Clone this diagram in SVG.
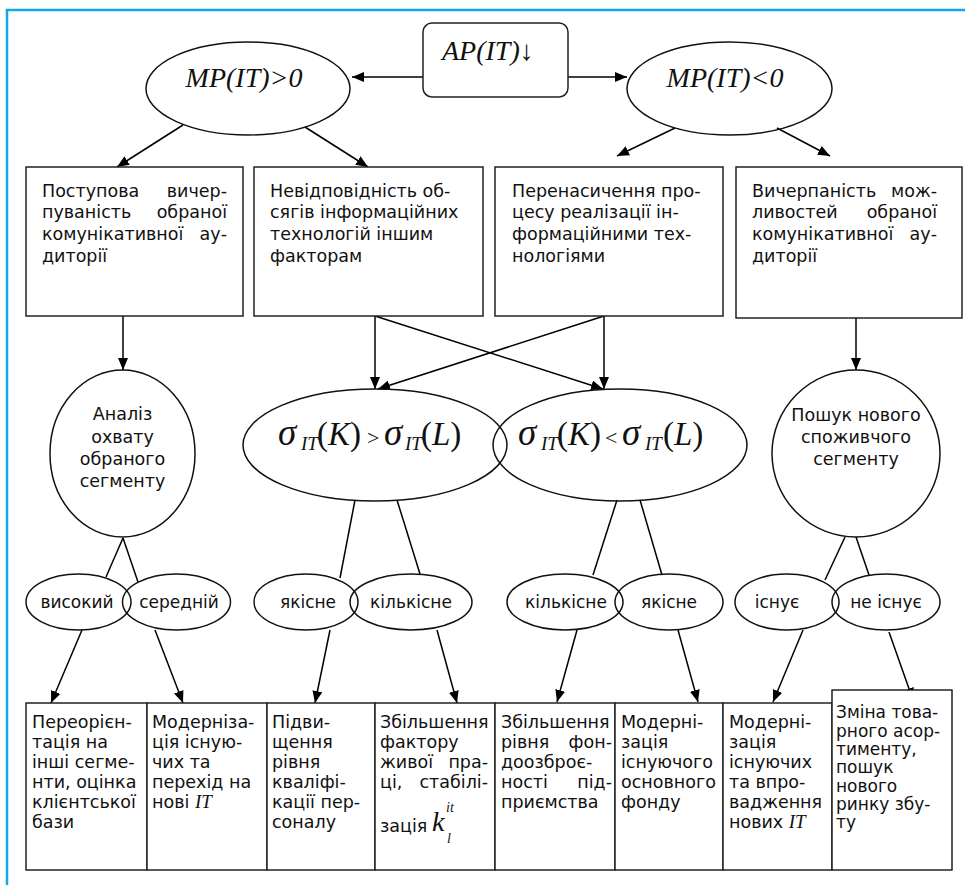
<svg xmlns="http://www.w3.org/2000/svg" width="965" height="885" viewBox="0 0 965 885">
<defs>
<marker id="ah" markerWidth="12" markerHeight="10" refX="12" refY="5" orient="auto" markerUnits="userSpaceOnUse">
<path d="M0,0 L12,5 L0,10 Z" fill="#000"/>
</marker>
<style>
.n{fill:none;stroke:#111;stroke-width:1.5}
.b{fill:#fff;stroke:#222;stroke-width:1.5}
.c line{stroke:#000;stroke-width:1.5}
.a{marker-end:url(#ah)}
.t{font-family:"DejaVu Sans",Verdana,sans-serif;font-size:17.5px;fill:#111}
.s{font-family:"DejaVu Sans",Verdana,sans-serif;font-size:17px;fill:#111}
.m{font-family:"Liberation Serif","Times New Roman",serif;fill:#111}
.g{font-style:italic;font-size:37px}
.sub{font-style:italic;font-size:19px}
.mid{text-anchor:middle}
.e{text-anchor:end}
</style>
</defs>
<rect width="965" height="885" fill="#fff"/>
<path d="M7,885 V10 H965" fill="none" stroke="#14a6e6" stroke-width="2.5"/>

<g class="c">
<line class="a" x1="423" y1="77" x2="352" y2="77"/>
<line class="a" x1="568" y1="77" x2="627" y2="77"/>
<line class="a" x1="183" y1="125" x2="117" y2="167"/>
<line class="a" x1="305" y1="127" x2="368" y2="167"/>
<line class="a" x1="675" y1="128" x2="617" y2="156"/>
<line class="a" x1="777" y1="128" x2="830" y2="156"/>
<line class="a" x1="123" y1="316" x2="123" y2="370"/>
<line class="a" x1="375" y1="316" x2="375" y2="389"/>
<line class="a" x1="375" y1="316" x2="603" y2="389"/>
<line class="a" x1="604" y1="316" x2="604" y2="389"/>
<line class="a" x1="604" y1="316" x2="378" y2="389"/>
<line class="a" x1="856" y1="318" x2="856" y2="370"/>
<line x1="123" y1="538" x2="106" y2="577"/>
<line x1="123" y1="538" x2="138" y2="582"/>
<line x1="355" y1="500" x2="340" y2="578"/>
<line x1="397" y1="500" x2="420" y2="574"/>
<line x1="617" y1="500" x2="593" y2="575"/>
<line x1="640" y1="500" x2="662" y2="575"/>
<line x1="845" y1="537" x2="825" y2="580"/>
<line x1="856" y1="537" x2="869" y2="575"/>
<line class="a" x1="82" y1="630" x2="51" y2="703"/>
<line class="a" x1="155" y1="630" x2="183" y2="703"/>
<line class="a" x1="330" y1="630" x2="315" y2="703"/>
<line class="a" x1="437" y1="630" x2="457" y2="703"/>
<line class="a" x1="577" y1="630" x2="557" y2="702"/>
<line class="a" x1="678" y1="630" x2="698" y2="702"/>
<line class="a" x1="803" y1="630" x2="773" y2="702"/>
<line class="a" x1="889" y1="632" x2="913" y2="700"/>
</g>

<g id="ap">
<rect class="b" x="423" y="23" width="145" height="74" rx="9"/>
<text class="m" x="442" y="60" font-size="28"><tspan font-style="italic">AP(IT)</tspan>↓</text>
</g>
<g id="mp-pos">
<ellipse class="n" cx="248" cy="88.5" rx="102" ry="46.5"/>
<text class="m mid" x="244" y="87" font-size="28" font-style="italic">MP(IT)&gt;0</text>
</g>
<g id="mp-neg">
<ellipse class="n" cx="729.5" cy="88.5" rx="102.5" ry="46.5"/>
<text class="m mid" x="725" y="87" font-size="28" font-style="italic">MP(IT)&lt;0</text>
</g>

<g id="box1">
<rect class="b" x="26" y="167" width="217" height="149"/>
<text class="t" x="42" y="197">Поступова</text><text class="t e" x="227" y="197">вичер-</text>
<text class="t" x="42" y="218">пуваність</text><text class="t e" x="227" y="218">обраної</text>
<text class="t" x="42" y="240">комунікативної</text><text class="t e" x="227" y="240">ау-</text>
<text class="t" x="42" y="262">диторії</text>
</g>
<g id="box2">
<rect class="b" x="254" y="167" width="229" height="149"/>
<text class="t" x="270" y="197">Невідповідність об-</text>
<text class="t" x="270" y="218">сягів інформаційних</text>
<text class="t" x="270" y="240">технологій іншим</text>
<text class="t" x="270" y="262">факторам</text>
</g>
<g id="box3">
<rect class="b" x="495" y="167" width="228" height="149"/>
<text class="t" x="512" y="197">Перенасичення про-</text>
<text class="t" x="512" y="218">цесу реалізації ін-</text>
<text class="t" x="512" y="240">формаційними тех-</text>
<text class="t" x="512" y="262">нологіями</text>
</g>
<g id="box4">
<rect class="b" x="736" y="167" width="226" height="151"/>
<text class="t" x="752" y="197">Вичерпаність</text><text class="t e" x="937" y="197">мож-</text>
<text class="t" x="752" y="218">ливостей</text><text class="t e" x="937" y="218">обраної</text>
<text class="t" x="752" y="240">комунікативної</text><text class="t e" x="937" y="240">ау-</text>
<text class="t" x="752" y="262">диторії</text>
</g>

<g id="analysis">
<ellipse class="n" cx="122.5" cy="453.5" rx="72.5" ry="83.5"/>
<text class="t mid" x="122.5" y="420">Аналіз</text>
<text class="t mid" x="122.5" y="443">охвату</text>
<text class="t mid" x="122.5" y="465">обраного</text>
<text class="t mid" x="122.5" y="487">сегменту</text>
</g>
<g id="sigma-gt">
<ellipse class="n" cx="375" cy="445" rx="132" ry="56"/>
<text class="m" y="445" font-size="33"><tspan class="g" x="278">σ</tspan><tspan class="sub" x="301" y="450">IT</tspan><tspan x="317" y="445">(</tspan><tspan font-style="italic">K</tspan><tspan>)</tspan><tspan x="367" font-size="22">&gt;</tspan><tspan class="g" x="384">σ</tspan><tspan class="sub" x="405" y="450">IT</tspan><tspan x="421" y="445">(</tspan><tspan font-style="italic">L</tspan><tspan>)</tspan></text>
</g>
<g id="sigma-lt">
<ellipse class="n" cx="620" cy="445" rx="127" ry="56"/>
<text class="m" y="445" font-size="33"><tspan class="g" x="518">σ</tspan><tspan class="sub" x="541" y="450">IT</tspan><tspan x="557" y="445">(</tspan><tspan font-style="italic">K</tspan><tspan>)</tspan><tspan x="605" font-size="22">&lt;</tspan><tspan class="g" x="622">σ</tspan><tspan class="sub" x="645" y="450">IT</tspan><tspan x="663" y="445">(</tspan><tspan font-style="italic">L</tspan><tspan>)</tspan></text>
</g>
<g id="search">
<ellipse class="n" cx="856" cy="453.5" rx="84" ry="83.5"/>
<text class="t mid" x="856" y="421">Пошук нового</text>
<text class="t mid" x="856" y="443">споживчого</text>
<text class="t mid" x="856" y="465">сегменту</text>
</g>

<g id="high"><ellipse class="n" cx="78.5" cy="602" rx="52.5" ry="28"/><text class="s mid" x="77" y="608">високий</text></g>
<g id="medium"><ellipse class="n" cx="176.5" cy="602" rx="54" ry="28"/><text class="s mid" x="179" y="608">середній</text></g>
<g id="qual1"><ellipse class="n" cx="306" cy="602" rx="52" ry="28"/><text class="s mid" x="308" y="608">якісне</text></g>
<g id="quant1"><ellipse class="n" cx="411" cy="602" rx="61" ry="28"/><text class="s mid" x="411" y="608">кількісне</text></g>
<g id="quant2"><ellipse class="n" cx="565" cy="602" rx="58" ry="28"/><text class="s mid" x="566" y="608">кількісне</text></g>
<g id="qual2"><ellipse class="n" cx="669" cy="602" rx="54" ry="28"/><text class="s mid" x="669" y="608">якісне</text></g>
<g id="exists"><ellipse class="n" cx="787" cy="602" rx="52" ry="28"/><text class="s mid" x="777" y="608">існує</text></g>
<g id="notexists"><ellipse class="n" cx="886" cy="602" rx="54" ry="28"/><text class="s mid" x="886" y="608">не існує</text></g>

<g id="r1">
<rect class="b" x="26" y="703" width="121" height="167"/>
<text class="t" x="32" y="728">Переорієн-</text>
<text class="t" x="32" y="748">тація на</text>
<text class="t" x="32" y="768">інші сегме-</text>
<text class="t" x="32" y="788">нти, оцінка</text>
<text class="t" x="32" y="808">клієнтської</text>
<text class="t" x="32" y="828">бази</text>
</g>
<g id="r2">
<rect class="b" x="147" y="703" width="120" height="167"/>
<text class="t" x="152" y="728">Модерніза-</text>
<text class="t" x="152" y="748">ція існую-</text>
<text class="t" x="152" y="768">чих та</text>
<text class="t" x="152" y="788">перехід на</text>
<text class="t" x="152" y="808">нові <tspan font-family="Liberation Serif" font-style="italic" font-size="19">IT</tspan></text>
</g>
<g id="r3">
<rect class="b" x="267" y="703" width="108" height="167"/>
<text class="t" x="272" y="728">Підви-</text>
<text class="t" x="272" y="748">щення</text>
<text class="t" x="272" y="768">рівня</text>
<text class="t" x="272" y="788">кваліфі-</text>
<text class="t" x="272" y="808">кації пер-</text>
<text class="t" x="272" y="828">соналу</text>
</g>
<g id="r4">
<rect class="b" x="375" y="703" width="120" height="167"/>
<text class="t" x="380" y="728">Збільшення</text>
<text class="t" x="380" y="748">фактору</text>
<text class="t" x="380" y="768">живої</text><text class="t e" x="488" y="768">пра-</text>
<text class="t" x="380" y="788">ці,</text><text class="t e" x="488" y="788">стабілі-</text>
<text class="t" x="380" y="832">зація</text>
<text class="m" font-style="italic"><tspan x="432" y="831" font-size="28">k</tspan><tspan x="447" y="843" font-size="14">l</tspan><tspan x="446" y="812" font-size="14">it</tspan></text>
</g>
<g id="r5">
<rect class="b" x="495" y="703" width="120" height="167"/>
<text class="t" x="501" y="728">Збільшення</text>
<text class="t" x="501" y="748">рівня</text><text class="t e" x="612" y="748">фон-</text>
<text class="t" x="501" y="768">доозброє-</text>
<text class="t" x="501" y="788">ності</text><text class="t e" x="612" y="788">під-</text>
<text class="t" x="501" y="808">приємства</text>
</g>
<g id="r6">
<rect class="b" x="615" y="703" width="108" height="167"/>
<text class="t" x="621" y="728">Модерні-</text>
<text class="t" x="621" y="748">зація</text>
<text class="t" x="621" y="768">існуючого</text>
<text class="t" x="621" y="788">основного</text>
<text class="t" x="621" y="808">фонду</text>
</g>
<g id="r7">
<rect class="b" x="723" y="703" width="109" height="167"/>
<text class="t" x="729" y="728">Модерні-</text>
<text class="t" x="729" y="748">зація</text>
<text class="t" x="729" y="768">існуючих</text>
<text class="t" x="729" y="788">та впро-</text>
<text class="t" x="729" y="808">вадження</text>
<text class="t" x="729" y="828">нових <tspan font-family="Liberation Serif" font-style="italic" font-size="19">IT</tspan></text>
</g>
<g id="r8">
<rect class="b" x="832" y="690" width="120" height="180"/>
<text class="s" x="836" y="718">Зміна това-</text>
<text class="s" x="836" y="737">рного асор-</text>
<text class="s" x="836" y="755">тименту,</text>
<text class="s" x="836" y="773">пошук</text>
<text class="s" x="836" y="792">нового</text>
<text class="s" x="836" y="810">ринку збу-</text>
<text class="s" x="836" y="828">ту</text>
</g>
</svg>
